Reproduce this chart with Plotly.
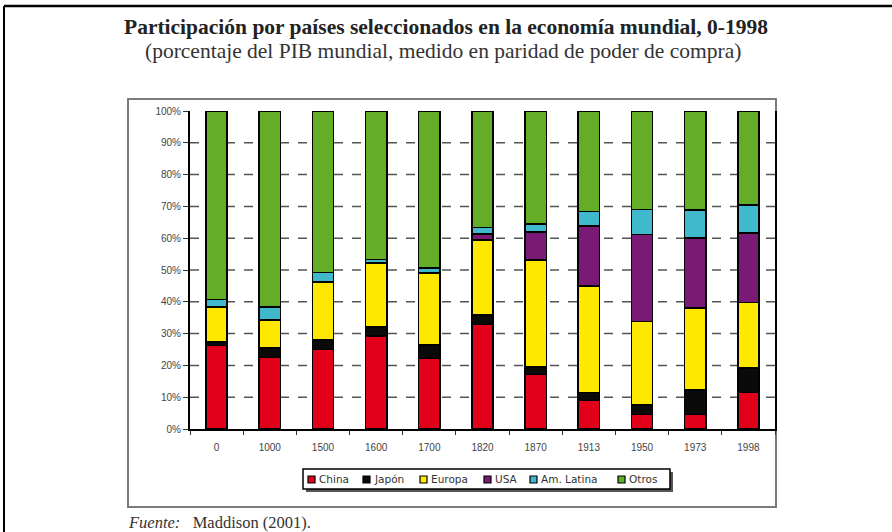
from plotly import graph_objects as go

# share of world GDP (%) (Maddison 2001)
years = ["0", "1000", "1500", "1600", "1700", "1820", "1870", "1913", "1950", "1973", "1998"]
china = [26.2, 22.7, 25.0, 29.2, 22.3, 32.9, 17.2, 8.9, 4.5, 4.6, 11.5]
japon = [1.2, 2.7, 3.1, 2.9, 4.1, 3.0, 2.3, 2.6, 3.0, 7.7, 7.7]
europa = [10.8, 8.7, 17.9, 19.9, 22.5, 23.6, 33.6, 33.5, 26.3, 25.7, 20.6]
usa = [0.3, 0.4, 0.3, 0.2, 0.1, 1.8, 8.9, 18.9, 27.3, 22.1, 21.9]
am_latina = [2.2, 3.9, 2.9, 1.1, 1.7, 2.0, 2.5, 4.5, 7.9, 8.7, 8.7]
otros = [
    round(100 - sum(v), 1)
    for v in zip(china, japon, europa, usa, am_latina)
]
grid_levels = [10, 20, 30, 40, 50, 60, 70, 80, 90]

series = [
    ("China", china, "#e2001a"),
    ("Japón", japon, "#0a0a0a"),
    ("Europa", europa, "#ffe800"),
    ("USA", usa, "#7b1a74"),
    ("Am. Latina", am_latina, "#41b9cd"),
    ("Otros", otros, "#63ad27"),
]

W, H = 892, 532
L, R, T, B = 190, 775, 111, 429
# left pixel of each legend swatch (legend is drawn by hand, like the scan)
legend_x = [308, 363, 420, 484, 530, 618]


def px(x):
    return (x - L) / (R - L)


def py(y):
    return (B - y) / (B - T)


fig = go.Figure()
for name, vals, col in series:
    fig.add_trace(
        go.Bar(
            x=years,
            y=vals,
            name=name,
            showlegend=False,
            marker=dict(color=col, line=dict(color="black", width=1.5)),
        )
    )

shapes = [
    # outer page border (top and left)
    dict(type="line", xref="paper", yref="paper", x0=px(4), x1=px(892),
         y0=py(6), y1=py(6), line=dict(color="black", width=2.5)),
    dict(type="line", xref="paper", yref="paper", x0=px(4), x1=px(4),
         y0=py(6), y1=py(532), line=dict(color="black", width=2)),
    # chart frame
    dict(type="rect", xref="paper", yref="paper", x0=px(128), x1=px(776),
         y0=py(507), y1=py(99), line=dict(color="#7a7a7a", width=2), layer="below"),
    # legend box with its shadow
    dict(type="rect", xref="paper", yref="paper", x0=px(306), x1=px(673),
         y0=py(492), y1=py(472), line=dict(width=0), fillcolor="#555"),
    dict(type="rect", xref="paper", yref="paper", x0=px(303), x1=px(670),
         y0=py(489), y1=py(469), line=dict(color="black", width=1.5), fillcolor="white"),
]
for g in grid_levels:
    shapes.append(
        dict(type="line", xref="paper", yref="y", x0=0, x1=1, y0=g, y1=g,
             line=dict(color="#555", width=1.5, dash="dash"), layer="below")
    )

annotations = [
    dict(text="<b>Participación por países seleccionados en la economía mundial, 0-1998</b>",
         x=px(446), y=py(27), xref="paper", yref="paper", showarrow=False,
         xanchor="center", yanchor="middle",
         font=dict(family="Liberation Serif", size=21.5, color="#222")),
    dict(text="(porcentaje del PIB mundial, medido en paridad de poder de compra)",
         x=px(443), y=py(51), xref="paper", yref="paper", showarrow=False,
         xanchor="center", yanchor="middle",
         font=dict(family="Liberation Serif", size=21.5, color="#333")),
    dict(text="<i>Fuente:</i>   Maddison (2001).",
         x=px(126), y=py(522), xref="paper", yref="paper", showarrow=False,
         xanchor="left", yanchor="middle",
         font=dict(family="Liberation Serif", size=16.5, color="#333")),
]

for (name, vals, col), lx in zip(series, legend_x):
    shapes.append(
        dict(type="rect", xref="paper", yref="paper", x0=px(lx), x1=px(lx + 7),
             y0=py(483), y1=py(476), fillcolor=col,
             line=dict(color="black", width=1.2))
    )
    annotations.append(
        dict(text=name, x=px(lx + 9), y=py(479.5), xref="paper", yref="paper",
             showarrow=False, xanchor="left", yanchor="middle",
             font=dict(family="DejaVu Sans", size=10.5, color="#333"))
    )

fig.update_layout(
    width=W,
    height=H,
    margin=dict(l=L, r=W - R, t=T, b=H - B, pad=0),
    paper_bgcolor="white",
    plot_bgcolor="white",
    barmode="stack",
    bargap=0.6,
    shapes=shapes,
    annotations=annotations,
    font=dict(family="Liberation Sans", size=10, color="#444"),
    showlegend=False,
    xaxis=dict(
        type="category",
        showline=True,
        linecolor="black",
        linewidth=2,
        ticks="outside",
        tickson="boundaries",
        ticklen=4,
        tickcolor="#333",
        ticklabelstandoff=8,
        showgrid=False,
    ),
    yaxis=dict(
        range=[0, 100],
        dtick=10,
        ticksuffix="%",
        showline=True,
        mirror=True,
        linecolor="black",
        linewidth=2,
        ticks="outside",
        ticklen=5,
        tickcolor="#333",
        showgrid=False,
        zeroline=False,
    ),
)

fig.write_html(
    "out.html",
    config={"displayModeBar": False},
    post_script="document.body.style.margin = '0';",
)
